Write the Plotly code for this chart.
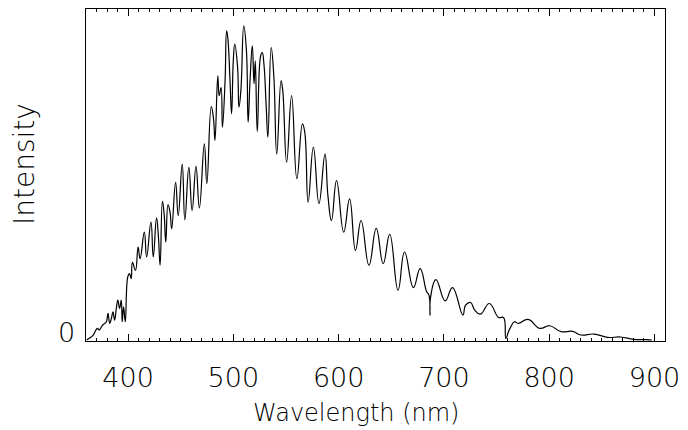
import plotly.graph_objects as go

# Wavelength (nm) and intensity (arbitrary units, 0..1 scale)
wavelength = [360.7, 363.1, 366.9, 369.4, 371.0, 372.5, 374.7, 375.7, 377.8, 379.4,
              380.9, 382.5, 384.1, 385.6, 387.2, 388.8, 390.3, 391.9, 393.5, 394.4,
              395.7, 397.3, 399.7, 401.3, 402.9, 404.1, 407.0, 409.5, 411.4, 415.4,
              417.6, 421.7, 423.9, 427.0, 428.8, 430.4, 432.6, 434.2, 435.8, 437.9,
              439.8, 441.4, 445.1, 447.6, 451.4, 453.9, 457.7, 460.8, 464.5, 467.7,
              472.4, 474.8, 479.0, 481.1, 482.5, 485.2, 486.5, 488.3, 489.6, 492.1,
              493.6, 494.8, 496.8, 498.3, 499.9, 501.3, 504.0, 505.3, 507.1, 509.9,
              512.4, 514.0, 515.9, 518.0, 519.6, 520.8, 522.7, 525.9, 527.4, 529.0,
              531.2, 532.8, 535.9, 538.4, 541.2, 545.3, 546.9, 550.6, 555.3, 560.3,
              565.6, 567.8, 571.0, 576.0, 581.3, 587.0, 589.8, 593.2, 598.0, 604.8,
              610.4, 616.0, 621.3, 628.8, 635.7, 642.3, 648.5, 656.4, 662.6, 671.0,
              677.4, 683.6, 685.8, 686.8, 687.2, 692.4, 701.2, 708.1, 718.0, 720.6,
              725.3, 729.3, 734.7, 743.1, 751.9, 756.6, 758.8, 761.3, 762.8, 766.9,
              770.6, 780.0, 791.0, 800.4, 811.4, 822.3, 830.2, 842.6, 855.2, 867.8,
              880.2, 892.7, 897.4]

intensity = [0.003, 0.008, 0.018, 0.033, 0.038, 0.033, 0.043, 0.048, 0.053, 0.058,
             0.083, 0.053, 0.068, 0.088, 0.063, 0.098, 0.123, 0.098, 0.123, 0.058,
             0.103, 0.058, 0.193, 0.203, 0.188, 0.237, 0.213, 0.283, 0.248, 0.328,
             0.253, 0.358, 0.253, 0.371, 0.313, 0.228, 0.421, 0.384, 0.298, 0.411,
             0.388, 0.338, 0.478, 0.378, 0.533, 0.365, 0.523, 0.393, 0.526, 0.401,
             0.594, 0.474, 0.706, 0.670, 0.604, 0.799, 0.739, 0.763, 0.644, 0.784,
             0.934, 0.910, 0.784, 0.684, 0.844, 0.894, 0.824, 0.704, 0.754, 0.949,
             0.874, 0.659, 0.790, 0.889, 0.775, 0.844, 0.631, 0.859, 0.869, 0.835,
             0.704, 0.614, 0.884, 0.799, 0.563, 0.784, 0.754, 0.539, 0.739, 0.489,
             0.654, 0.629, 0.418, 0.584, 0.414, 0.563, 0.438, 0.363, 0.483, 0.328,
             0.428, 0.273, 0.363, 0.228, 0.339, 0.233, 0.321, 0.153, 0.268, 0.161,
             0.218, 0.148, 0.138, 0.078, 0.129, 0.185, 0.121, 0.161, 0.078, 0.108,
             0.116, 0.093, 0.081, 0.113, 0.071, 0.071, 0.008, 0.028, 0.038, 0.058,
             0.053, 0.065, 0.038, 0.046, 0.028, 0.029, 0.018, 0.021, 0.011, 0.012,
             0.005, 0.004, 0.003]

x_ticks = [400, 500, 600, 700, 800, 900]
x_title = "Wavelength (nm)"
y_title = "Intensity"

FONT = "DejaVu Sans"
TXT = "#000000"

fig = go.Figure()
fig.add_trace(go.Scatter(
    x=wavelength, y=intensity, mode="lines",
    line=dict(color="black", width=1.2, shape="spline", smoothing=1.3),
    showlegend=False, hoverinfo="skip",
))

fig.update_layout(
    width=688, height=430,
    margin=dict(l=86, r=18, t=8, b=89),
    paper_bgcolor="white", plot_bgcolor="white",
    font=dict(family=FONT, color=TXT, size=26, weight=200),
    xaxis=dict(
        range=[360, 910], tickvals=x_ticks, ticktext=[str(v) for v in x_ticks],
        showline=True, linecolor="black", linewidth=1, mirror="ticks",
        ticks="inside", ticklen=7, tickcolor="black", tickwidth=1,
        minor=dict(dtick=10, tick0=0, ticks="inside", ticklen=3, tickcolor="black", tickwidth=1),
        showgrid=False, zeroline=False,
        tickfont=dict(family=FONT, size=27, color=TXT, weight=200),
        ticklabelstandoff=13,
    ),
    yaxis=dict(
        range=[0, 1.0], showline=True, linecolor="black", linewidth=1, mirror=True,
        ticks="", showticklabels=False, showgrid=False, zeroline=False,
    ),
    annotations=[
        dict(text="0", xref="paper", yref="y", x=0, y=0, xanchor="right", yanchor="bottom",
             xshift=-9, yshift=-9, showarrow=False,
             font=dict(family=FONT, size=27, color=TXT, weight=200)),
        dict(text=x_title, xref="paper", yref="paper", x=0.466, y=0, xanchor="center",
             yanchor="middle", yshift=-72, showarrow=False,
             font=dict(family=FONT, size=24, color=TXT, weight=200)),
        dict(text=y_title, xref="paper", yref="paper", x=0, y=0.5, xanchor="center",
             yanchor="middle", xshift=-62, yshift=11, textangle=-90, showarrow=False,
             font=dict(family=FONT, size=28, color=TXT, weight=200)),
    ],
)

fig.write_html(
    "out.html",
    config={"displayModeBar": False},
    post_script="document.body.style.margin='0';document.body.style.overflow='hidden';",
)
